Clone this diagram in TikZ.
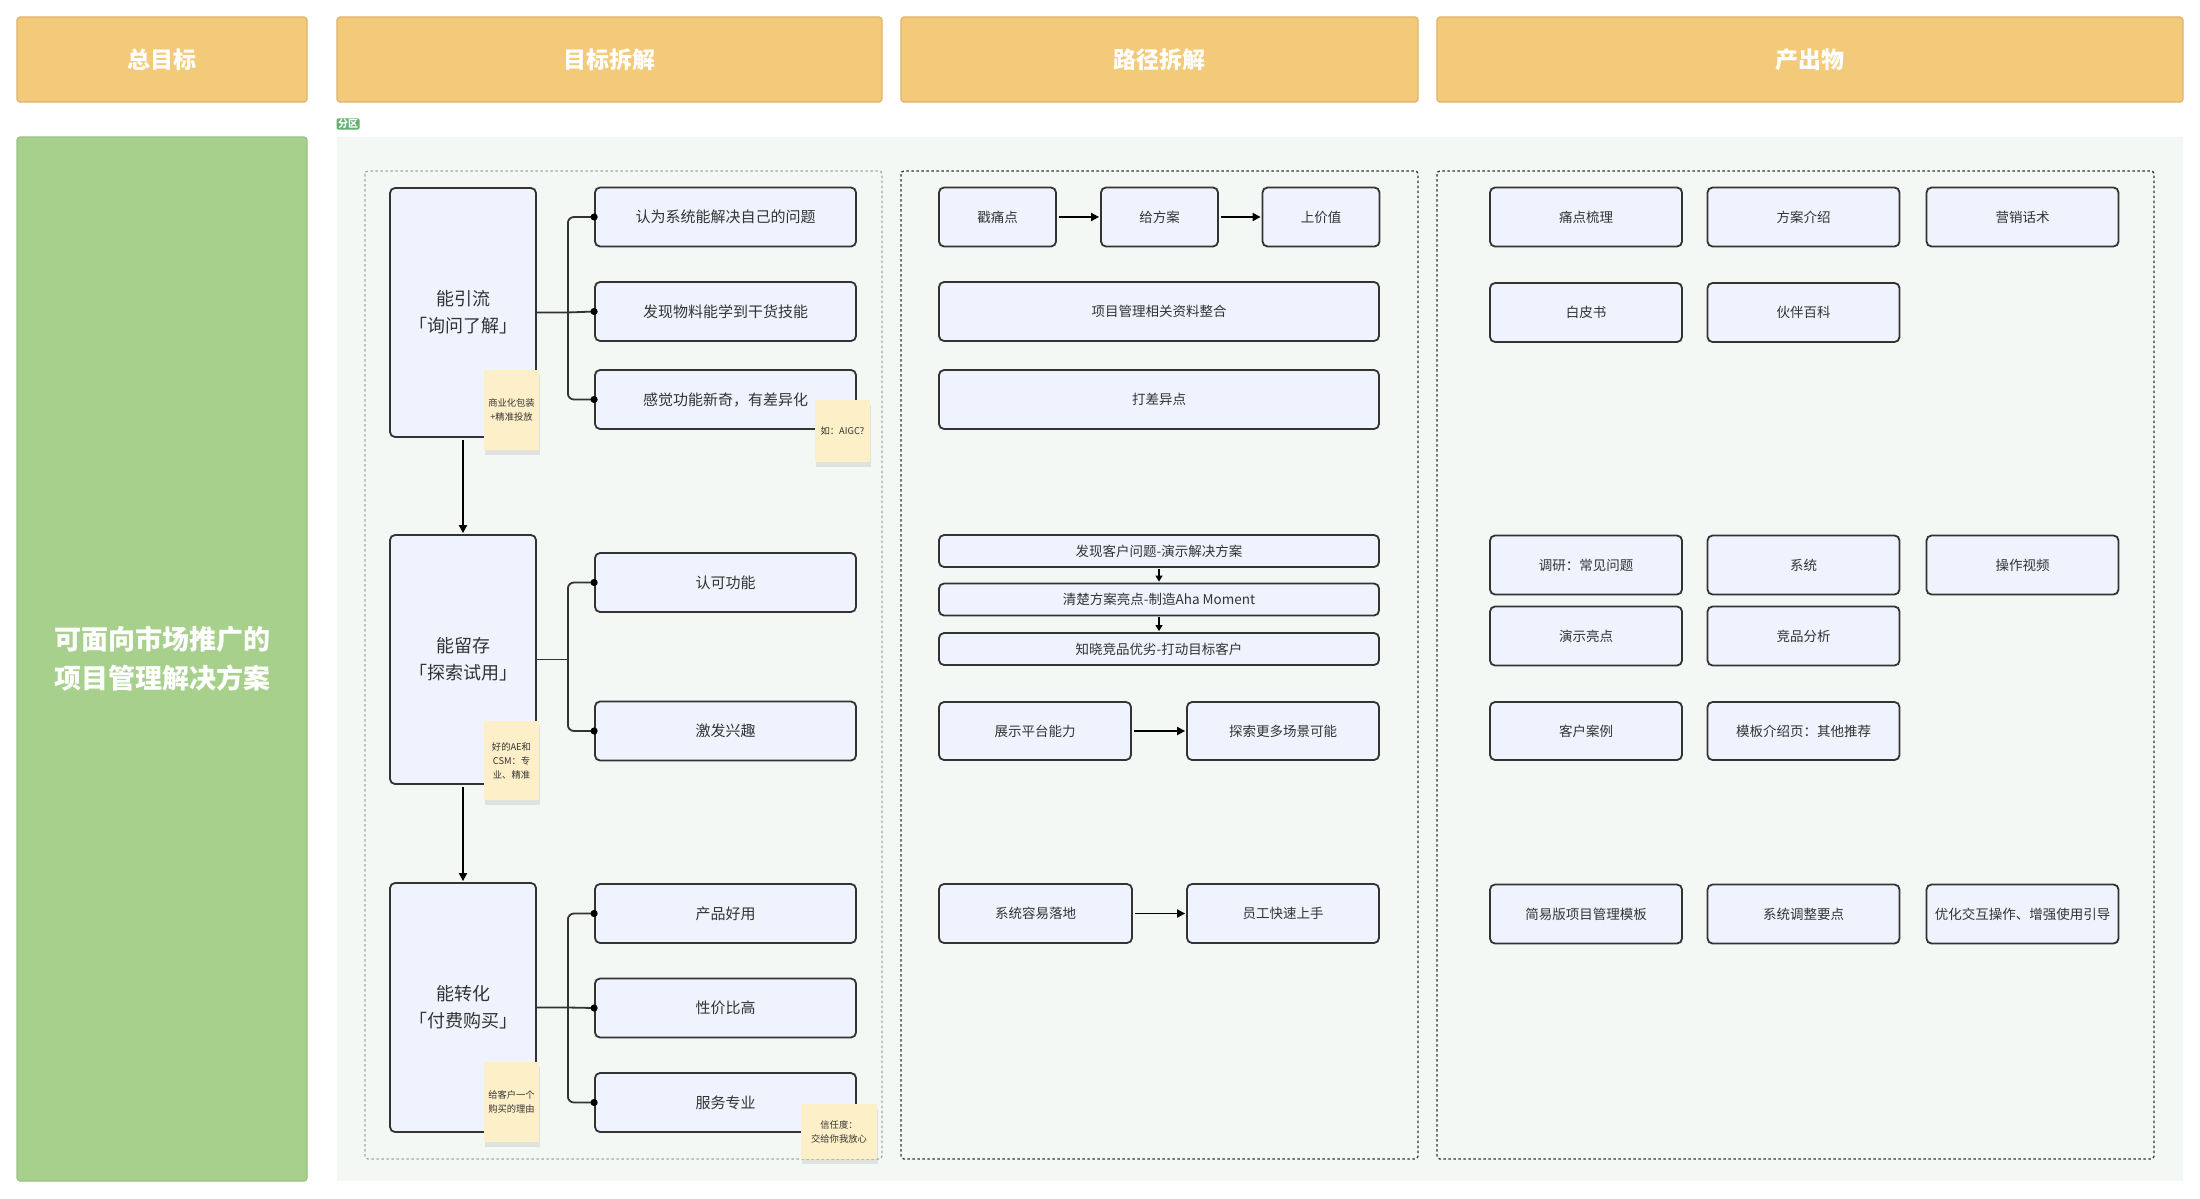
\documentclass[tikz,border=0pt]{standalone}
\usepackage{fontspec}
\setmainfont{Noto Sans CJK SC}
\usetikzlibrary{arrows.meta,shadows,calc,positioning}
\definecolor{headfill}{HTML}{F3C97A}
\definecolor{headline}{HTML}{DDB46A}
\definecolor{goalfill}{HTML}{A8D08D}
\definecolor{goalline}{HTML}{98C27E}
\definecolor{zonefill}{HTML}{F4F8F4}
\definecolor{boxfill}{HTML}{EFF3FD}
\definecolor{boxline}{HTML}{333333}
\definecolor{notefill}{HTML}{FDF0C8}
\definecolor{tagfill}{HTML}{62B070}
\tikzset{head/.style={rectangle, rounded corners=3pt, draw=headline, fill=headfill, line width=1.2pt, text=white, font=\fontsize{23}{28}\selectfont\bfseries, minimum height=85pt},
  goal/.style={rectangle, rounded corners=3pt, draw=goalline, fill=goalfill, line width=1.2pt, text=white, font=\fontsize{27}{39}\selectfont\bfseries, align=center},
  stage/.style={rectangle, rounded corners=5pt, draw=boxline, fill=boxfill, line width=1.8pt, text=boxline, font=\fontsize{18}{27}\selectfont, align=center, minimum width=146pt, minimum height=249pt},
  item/.style={rectangle, rounded corners=5pt, draw=boxline, fill=boxfill, line width=1.8pt, text=boxline, font=\fontsize{15}{18}\selectfont, minimum width=261pt, minimum height=59pt},
  pathbox/.style={rectangle, rounded corners=5pt, draw=boxline, fill=boxfill, line width=1.8pt, text=boxline, font=\fontsize{13.5}{16}\selectfont, minimum height=59pt},
  thin/.style={pathbox, minimum width=440pt, minimum height=32pt},
  outbox/.style={pathbox, minimum width=192pt, minimum height=59pt},
  note/.style={rectangle, fill=notefill, text=boxline, font=\fontsize{9.3}{14}\selectfont, align=center, inner sep=1pt, drop shadow={opacity=0.18, shadow xshift=1pt, shadow yshift=-5pt}},
  zone/.style={draw=#1, dashed, dash pattern=on 2.5pt off 2.5pt, line width=1.3pt, rounded corners=3pt},
  link/.style={line width=1.8pt, draw=black, -{Triangle[length=8pt,width=8pt]}, shorten <=2pt, shorten >=1pt},
  brk/.style={line width=1.8pt, draw=boxline, rounded corners=6pt}}

\begin{document}
\begin{tikzpicture}[x=1pt,y=-1pt]
    \useasboundingbox[fill=white] (0,0) rectangle (2200,1199);
    \fill[zonefill] (337,137) rectangle (2183,1181);
    \node[rectangle, fill=tagfill, rounded corners=1.5pt, text=white, font=\fontsize{10}{11}\selectfont\bfseries, inner xsep=1.5pt, inner ysep=1pt] (T) at (348,124) {分区};

    \node[head, minimum width=290pt] (H1) at (162,59.5) {总目标};
    \node[head, minimum width=545pt] (H2) at (609.5,59.5) {目标拆解};
    \node[head, minimum width=517pt] (H3) at (1159.5,59.5) {路径拆解};
    \node[head, minimum width=746pt] (H4) at (1810,59.5) {产出物};
    \node[goal, minimum width=290pt, minimum height=1044pt] (G) at (162,659) {可面向市场推广的\\项目管理解决方案};

    \draw[zone=gray!70] (365,171) rectangle (882,1159);
    \draw[zone=boxline] (901,171) rectangle (1418,1159);
    \draw[zone=boxline] (1437,171) rectangle (2154,1159);

    \node[stage] (P1) at (463,312.5) {能引流\\「询问了解」};
    \node[stage] (P2) at (463,659.5) {能留存\\「探索试用」};
    \node[stage] (P3) at (463,1007.5) {能转化\\「付费购买」};
    \node[item] (A1) at (725.5,217) {认为系统能解决自己的问题};
    \node[item] (A2) at (725.5,311.5) {发现物料能学到干货技能};
    \node[item] (A3) at (725.5,399.5) {感觉功能新奇，有差异化};
    \node[item] (B1) at (725.5,582.5) {认可功能};
    \node[item] (B2) at (725.5,731) {激发兴趣};
    \node[item] (C1) at (725.5,913.5) {产品好用};
    \node[item] (C2) at (725.5,1008) {性价比高};
    \node[item] (C3) at (725.5,1102.5) {服务专业};
    \coordinate (J1) at ($(P1.east)+(31,0)$);
    \coordinate (J2) at ($(P2.east)+(31,0)$);
    \coordinate (J3) at ($(P3.east)+(31,0)$);
    \draw[brk] (A1.west) -| (J1) |- (A3.west);
    \draw[brk] (P1.east) -- (J1) -- (A2.west);
    \draw[brk] (B1.west) -| (J2) |- (B2.west);
    \draw[brk] (P2.east) -- (J2);
    \draw[brk] (C1.west) -| (J3) |- (C3.west);
    \draw[brk] (P3.east) -- (J3) -- (C2.west);
    \foreach \n in {A1,A2,A3,B1,B2,C1,C2,C3} \fill[black] (\n.west) circle (3.6);
    \path[link] (P1) edge (P2) (P2) edge (P3);

    \node[pathbox, minimum width=117pt] (M1) at (997.5,217) {戳痛点};
    \node[pathbox, minimum width=117pt] (M2) at (1159.5,217) {给方案};
    \node[pathbox, minimum width=117pt] (M3) at (1321,217) {上价值};
    \node[pathbox, minimum width=440pt] (M4) at (1159,311.5) {项目管理相关资料整合};
    \node[pathbox, minimum width=440pt] (M5) at (1159,399.5) {打差异点};
    \node[thin] (M6) at (1159,551) {发现客户问题-演示解决方案};
    \node[thin] (M7) at (1159,599.5) {清楚方案亮点-制造Aha Moment};
    \node[thin] (M8) at (1159,649) {知晓竞品优劣-打动目标客户};
    \node[pathbox, minimum width=192pt, minimum height=58pt] (M9) at (1035,731) {展示平台能力};
    \node[pathbox, minimum width=192pt, minimum height=58pt] (M10) at (1283,731) {探索更多场景可能};
    \node[pathbox, minimum width=193pt] (M11) at (1035.5,913.5) {系统容易落地};
    \node[pathbox, minimum width=192pt] (M12) at (1283,913.5) {员工快速上手};
    \path[link] (M1) edge (M2) (M2) edge (M3) (M9) edge (M10) (M11) edge (M12);
    \path[link, -{Triangle[length=6pt,width=7pt]}, shorten <=1pt] (M6) edge (M7) (M7) edge (M8);

    \node[outbox] (O1) at (1586,217) {痛点梳理};
    \node[outbox] (O2) at (1803.5,217) {方案介绍};
    \node[outbox] (O3) at (2022.5,217) {营销话术};
    \node[outbox] (O4) at (1586,312.5) {白皮书};
    \node[outbox] (O5) at (1803.5,312.5) {伙伴百科};
    \node[outbox] (O6) at (1586,565) {调研：常见问题};
    \node[outbox] (O7) at (1803.5,565) {系统};
    \node[outbox] (O8) at (2022.5,565) {操作视频};
    \node[outbox] (O9) at (1586,636) {演示亮点};
    \node[outbox] (O10) at (1803.5,636) {竞品分析};
    \node[outbox, minimum height=58pt] (O11) at (1586,731) {客户案例};
    \node[outbox, minimum height=58pt] (O12) at (1803.5,731) {模板介绍页：其他推荐};
    \node[outbox] (O13) at (1586,914) {简易版项目管理模板};
    \node[outbox] (O14) at (1803.5,914) {系统调整要点};
    \node[outbox] (O15) at (2022.5,914) {优化交互操作、增强使用引导};

    \node[note, minimum width=55pt, minimum height=80pt] (S1) at (511.5,410) {商业化包装\\+精准投放};
    \node[note, minimum width=55pt, minimum height=62pt] (S2) at (842.5,431) {如：AIGC?};
    \node[note, minimum width=55pt, minimum height=79pt] (S3) at (511.5,760.5) {好的AE和\\CSM：专\\业、精准};
    \node[note, minimum width=55pt, minimum height=80pt] (S4) at (511.5,1102) {给客户一个\\购买的理由};
    \node[note, minimum width=76pt, minimum height=55pt] (S5) at (839,1131.5) {信任度：\\交给你我放心};
\end{tikzpicture}
\end{document}
